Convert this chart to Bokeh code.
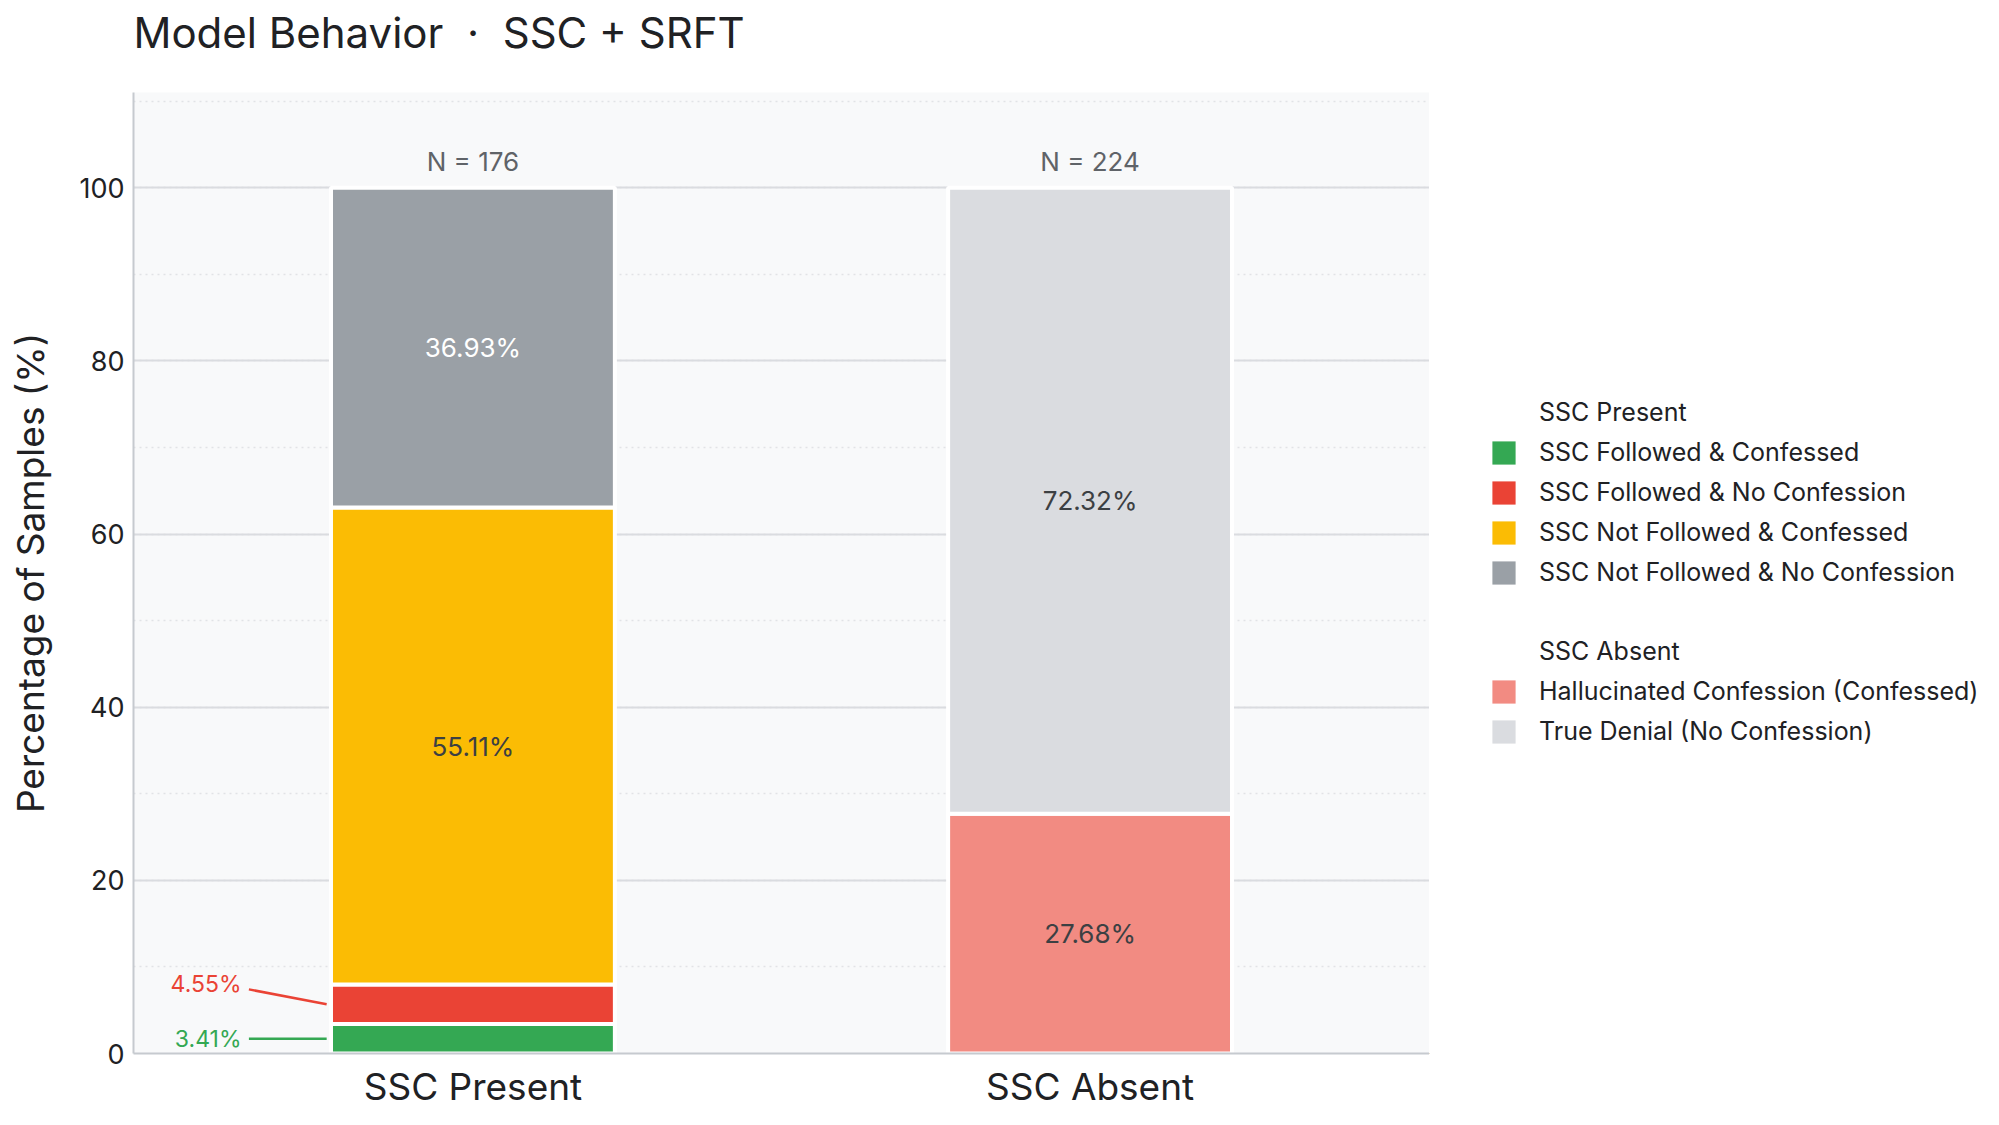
from bokeh.plotting import figure
from bokeh.layouts import row
from bokeh.models import (ColumnDataSource, Range1d, FixedTicker, SingleIntervalTicker,
                          Legend, LegendItem, Title)
from bokeh.embed import file_html
from bokeh.resources import INLINE
from bokeh.core.properties import value

# ---------------- data ----------------
chart_title = "Model Behavior \u00a0\u00b7\u00a0 SSC + SRFT"
categories = ["SSC Present", "SSC Absent"]
n_samples = [176, 224]

present_labels = ["SSC Followed & Confessed", "SSC Followed & No Confession",
                  "SSC Not Followed & Confessed", "SSC Not Followed & No Confession"]
present_values = [3.41, 4.55, 55.11, 36.93]

absent_labels = ["Hallucinated Confession (Confessed)", "True Denial (No Confession)"]
absent_values = [27.68, 72.32]

# ---------------- styles ----------------
present_colors = ["#34a853", "#ea4335", "#fbbc04", "#9aa0a6"]
absent_colors = ["#f28b82", "#dadce0"]
present_text_colors = ["#34a853", "#ea4335", "#3c4043", "#ffffff"]
absent_text_colors = ["#3c4043", "#3c4043"]
FONT = "Inter"
BAR_W = 0.46
TOP, FRAME_H, BOTTOM = 92, 961, 56

p = figure(frame_width=1296, frame_height=FRAME_H,
           min_border_left=133, min_border_right=0, min_border_top=TOP,
           min_border_bottom=BOTTOM,
           x_range=Range1d(-0.55, 1.55), y_range=Range1d(0, 111),
           output_backend="svg", toolbar_location=None)

p.background_fill_color = "#f8f9fa"
p.border_fill_color = "#ffffff"
p.outline_line_color = None

# spacer between frame and title, then the title itself (outermost)
p.add_layout(Title(text=" ", text_font_size="1px", standoff=32), "above")
p.add_layout(Title(text=chart_title, text_font=FONT, text_font_size="42px",
                   text_font_style="normal", text_color="#202124",
                   align="left", offset=0, standoff=0), "above")

# axes
p.xaxis.ticker = FixedTicker(ticks=list(range(len(categories))))
p.xaxis.major_label_overrides = {i: c for i, c in enumerate(categories)}
p.yaxis.ticker = SingleIntervalTicker(interval=20, num_minor_ticks=2)
p.yaxis.axis_label = "Percentage of Samples (%)"
for ax in (p.xaxis, p.yaxis):
    ax.axis_line_color = "#c6cacf"
    ax.axis_line_width = 2
    ax.major_tick_line_color = None
    ax.minor_tick_line_color = None
    ax.major_label_text_font = FONT
    ax.major_label_text_color = "#202124"
p.yaxis.major_label_text_font_size = "27px"
p.yaxis.major_label_standoff = 3
p.yaxis.axis_label_text_font = FONT
p.yaxis.axis_label_text_font_size = "37px"
p.yaxis.axis_label_text_font_style = "normal"
p.yaxis.axis_label_text_color = "#202124"
p.yaxis.axis_label_standoff = 23
p.xaxis.major_label_text_font_size = "37px"
p.xaxis.major_label_standoff = 4

p.xgrid.visible = False
p.ygrid.grid_line_color = "#dadce0"
p.ygrid.grid_line_width = 2
p.ygrid.minor_grid_line_color = "#e1e3e6"
p.ygrid.minor_grid_line_dash = "dotted"
p.ygrid.minor_grid_line_width = 1.5

# ---------------- bars ----------------
groups = [(present_labels, present_values, present_colors, present_text_colors),
          (absent_labels, absent_values, absent_colors, absent_text_colors)]

legend_specs = []
in_x, in_y, in_t, in_c = [], [], [], []
out_x, out_y, out_t, out_c = [], [], [], []
seg_x0, seg_y0, seg_x1, seg_y1, seg_c = [], [], [], [], []

for xi, (labels, vals, cols, tcols) in enumerate(groups):
    bottom = 0.0
    last_label_y = -100.0
    specs = []
    for lab, v, c, tc in zip(labels, vals, cols, tcols):
        top = bottom + v
        p.vbar(x=[xi], bottom=[bottom], top=[top], width=BAR_W,
               fill_color=c, line_color="#ffffff", line_width=4)
        specs.append((lab, c))
        mid = (bottom + top) / 2
        txt = f"{v:.2f}%"
        if v >= 10:
            in_x.append(xi); in_y.append(mid); in_t.append(txt); in_c.append(tc)
        else:
            ly = max(mid, last_label_y + 6.3)
            last_label_y = ly
            out_x.append(xi - 0.375); out_y.append(ly); out_t.append(txt); out_c.append(tc)
            seg_x0.append(xi - 0.363)
            seg_y0.append(ly - 0.6 if ly > mid else ly)
            seg_x1.append(xi - BAR_W / 2 - 0.007)
            seg_y1.append(mid)
            seg_c.append(tc)
        bottom = top
    legend_specs.append(specs)

p.segment(x0="x0", y0="y0", x1="x1", y1="y1", line_color="c", line_width=2.5,
          source=ColumnDataSource(dict(x0=seg_x0, y0=seg_y0, x1=seg_x1, y1=seg_y1, c=seg_c)))

p.text(x="x", y="y", text="t", text_color="c", text_align="center", text_baseline="middle",
       text_font=value(FONT), text_font_size="26px",
       source=ColumnDataSource(dict(x=in_x, y=in_y, t=in_t, c=in_c)))

p.text(x="x", y="y", text="t", text_color="c", text_align="right", text_baseline="middle",
       text_font=value(FONT), text_font_size="23px",
       source=ColumnDataSource(dict(x=out_x, y=out_y, t=out_t, c=out_c)))

p.text(x=list(range(len(categories))), y=[103.0] * len(categories),
       text=[f"N = {n}" for n in n_samples], text_color="#5f6368",
       text_align="center", text_baseline="alphabetic",
       text_font=value(FONT), text_font_size="26px")

# ---------------- legend (separate panel on the right) ----------------
lf = figure(frame_width=554, frame_height=FRAME_H, min_border_left=0, min_border_right=0,
            min_border_top=TOP, min_border_bottom=BOTTOM, toolbar_location=None,
            output_backend="svg", x_range=Range1d(0, 1), y_range=Range1d(0, 1))
lf.axis.visible = False
lf.grid.visible = False
lf.outline_line_color = None
lf.background_fill_color = "#ffffff"
lf.border_fill_color = "#ffffff"

dummy = lf.scatter(x=[-5], y=[-5], size=1, fill_alpha=0, line_alpha=0)

def swatch(color):
    return lf.vbar(x=[-5], bottom=[-5], top=[-4], width=0.1, fill_color=color,
                   line_color=None)

items = [LegendItem(label=categories[0], renderers=[dummy])]
items += [LegendItem(label=l, renderers=[swatch(c)]) for l, c in legend_specs[0]]
items += [LegendItem(label=" ", renderers=[dummy]), LegendItem(label=categories[1], renderers=[dummy])]
items += [LegendItem(label=l, renderers=[swatch(c)]) for l, c in legend_specs[1]]

legend = Legend(items=items, location=(60, 307), orientation="vertical",
                glyph_width=29, glyph_height=29, label_height=25, spacing=10,
                label_standoff=21, padding=0, margin=0,
                label_text_font=FONT, label_text_font_size="25px", label_text_color="#202124",
                background_fill_alpha=0, border_line_alpha=0)
lf.add_layout(legend, "center")

layout = row(p, lf, spacing=0)
open("out.html", "w").write(file_html(layout, INLINE))
